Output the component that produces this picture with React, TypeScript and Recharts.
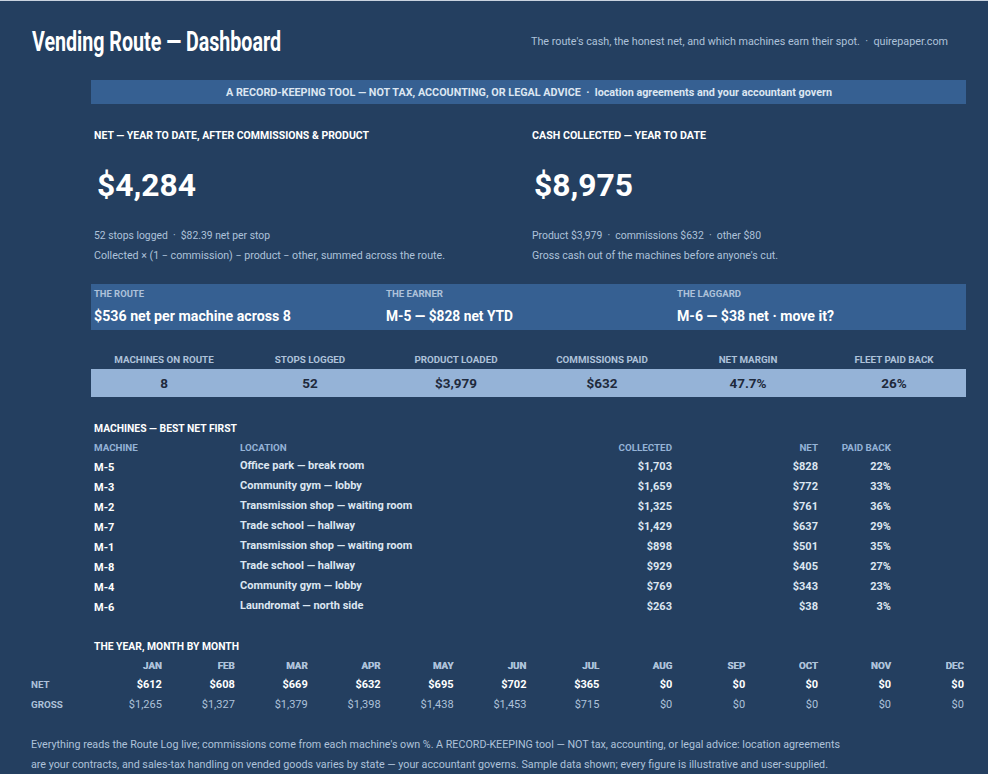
import {
  Bar, BarChart, LabelList, Scatter, ScatterChart, XAxis, YAxis,
} from 'recharts'

const FONT = 'Roboto, "Noto Sans", sans-serif'
const NAVY = '#243F60'
const BAND = '#366092'
const PALE = '#95B3D7'
const MUTED = '#AEC2DA'
const SOFT = '#DCE6F1'
const DARK = '#1F2A3C'

const KPI_LABELS = ['MACHINES ON ROUTE', 'STOPS LOGGED', 'PRODUCT LOADED', 'COMMISSIONS PAID', 'NET MARGIN', 'FLEET PAID BACK']
const KPI_VALUES = ['8', '52', '$3,979', '$632', '47.7%', '26%']

const MACHINES = ['M-5', 'M-3', 'M-2', 'M-7', 'M-1', 'M-8', 'M-4', 'M-6']
const LOCATIONS = [
  'Office park — break room',
  'Community gym — lobby',
  'Transmission shop — waiting room',
  'Trade school — hallway',
  'Transmission shop — waiting room',
  'Trade school — hallway',
  'Community gym — lobby',
  'Laundromat — north side',
]
const COLLECTED = [1703, 1659, 1325, 1429, 898, 929, 769, 263]
const MACHINE_NET = [828, 772, 761, 637, 501, 405, 343, 38]
const PAID_BACK = [22, 33, 36, 29, 35, 27, 23, 3]
const MACHINE_HEADERS = ['MACHINE', 'LOCATION', 'COLLECTED', 'NET', 'PAID BACK']

const MONTHS = ['JAN', 'FEB', 'MAR', 'APR', 'MAY', 'JUN', 'JUL', 'AUG', 'SEP', 'OCT', 'NOV', 'DEC']
const MONTH_ROWS = ['NET', 'GROSS']
const MONTH_NET = [612, 608, 669, 632, 695, 702, 365, 0, 0, 0, 0, 0]
const MONTH_GROSS = [1265, 1327, 1379, 1398, 1438, 1453, 715, 0, 0, 0, 0, 0]

// table column edges, in page pixels
const COLUMN_X = [94, 240, 672, 818, 891]
const COLUMN_ANCHOR = ['start', 'start', 'end', 'end', 'end']
const MONTH_BAND = 72.9

const usd = (v: number) => `$${v.toLocaleString('en-US')}`

const kpiData = KPI_LABELS.map((label, i) => ({ label, display: KPI_VALUES[i], band: 1 }))

const columnPoints = (col: number, texts: string[]) =>
  texts.map((text, i) => ({ x: COLUMN_X[col], machine: MACHINES[i], text }))

const monthPoints = (row: string, values: number[]) =>
  MONTHS.map((month, i) => ({ month, row, value: values[i] }))

function Txt({ x, y, w, size, weight = 400, color = SOFT, anchor = 'start', children }: any) {
  return (
    <text
      x={x}
      y={y}
      fontSize={size}
      fontWeight={weight}
      fill={color}
      textAnchor={anchor}
      dominantBaseline="central"
      textLength={w}
      lengthAdjust="spacingAndGlyphs"
      style={{ whiteSpace: 'pre' }}
    >
      {children}
    </text>
  )
}

function cellShape(col: number, color: string, weight: number, dy: number, size: number) {
  return (props: any) => (
    <text
      x={props.cx}
      y={props.cy + dy}
      fontSize={size}
      fontWeight={weight}
      fill={color}
      textAnchor={COLUMN_ANCHOR[col] as any}
      dominantBaseline="central"
    >
      {props.payload.text}
    </text>
  )
}

function monthShape(color: string, weight: number) {
  return (props: any) => (
    <text
      x={props.cx + MONTH_BAND / 2}
      y={props.cy}
      fontSize={11}
      fontWeight={weight}
      fill={color}
      textAnchor="end"
      dominantBaseline="central"
    >
      {usd(props.payload.value)}
    </text>
  )
}

function MachineHeaderTick({ x, y, index, payload }: any) {
  return (
    <text
      x={x}
      y={y - 1}
      fontSize={9.8}
      fontWeight={700}
      fill={PALE}
      textAnchor={COLUMN_ANCHOR[index] as any}
      dominantBaseline="central"
    >
      {MACHINE_HEADERS[COLUMN_X.indexOf(payload.value)]}
    </text>
  )
}

function MonthTick({ x, y, payload }: any) {
  return (
    <text x={x + MONTH_BAND / 2} y={y - 1} fontSize={9.8} fontWeight={700} fill={MUTED} textAnchor="end" dominantBaseline="central">
      {payload.value}
    </text>
  )
}

function RowTick({ y, payload }: any) {
  return (
    <text x={31} y={y} fontSize={9.8} fontWeight={700} fill={MUTED} dominantBaseline="central">
      {payload.value}
    </text>
  )
}

function KpiTick({ x, y, payload }: any) {
  return (
    <text x={x} y={y - 4} fontSize={9.8} fontWeight={700} fill={MUTED} textAnchor="middle" dominantBaseline="central">
      {payload.value}
    </text>
  )
}

function Backdrop() {
  return (
    <svg width={988} height={774} style={{ position: 'absolute', left: 0, top: 0 }} fontFamily={FONT}>
      <rect x={0} y={0} width={988} height={774} fill={NAVY} />
      <rect x={0} y={0} width={988} height={1} fill="#C9D3DF" />
      <rect x={91} y={80} width={875} height={24} fill={BAND} />
      <rect x={91} y={284} width={875} height={46} fill={BAND} />

      <g fontFamily={'"Liberation Sans Narrow", Roboto, sans-serif'}>
        <Txt x={32} y={42} w={249} size={27} weight={700} color="#FFFFFF">Vending Route — Dashboard</Txt>
      </g>
      <Txt x={531} y={41} w={417} size={11} color={MUTED}>The route's cash, the honest net, and which machines earn their spot.  ·  quirepaper.com</Txt>
      <Txt x={226} y={92} w={606} size={10.5} weight={700}>A RECORD-KEEPING TOOL — NOT TAX, ACCOUNTING, OR LEGAL ADVICE  ·  location agreements and your accountant govern</Txt>

      <Txt x={94} y={135} w={275} size={10.5} weight={700} color="#FFFFFF">NET — YEAR TO DATE, AFTER COMMISSIONS &amp; PRODUCT</Txt>
      <Txt x={532} y={135} w={174} size={10.5} weight={700} color="#FFFFFF">CASH COLLECTED — YEAR TO DATE</Txt>
      <Txt x={97} y={185} w={99} size={31} weight={700} color="#FFFFFF">$4,284</Txt>
      <Txt x={534} y={185} w={99} size={31} weight={700} color="#FFFFFF">$8,975</Txt>
      <Txt x={94} y={235} w={176} size={10.5} color={MUTED}>52 stops logged  ·  $82.39 net per stop</Txt>
      <Txt x={94} y={255} w={351} size={10.5} color={MUTED}>Collected × (1 − commission) − product − other, summed across the route.</Txt>
      <Txt x={532} y={235} w={229} size={10.5} color={MUTED}>Product $3,979  ·  commissions $632  ·  other $80</Txt>
      <Txt x={532} y={255} w={246} size={10.5} color={MUTED}>Gross cash out of the machines before anyone's cut.</Txt>

      <Txt x={94} y={293} w={50} size={9.5} weight={700} color={MUTED}>THE ROUTE</Txt>
      <Txt x={386} y={293} w={57} size={9.5} weight={700} color={MUTED}>THE EARNER</Txt>
      <Txt x={677} y={293} w={64} size={9.5} weight={700} color={MUTED}>THE LAGGARD</Txt>
      <Txt x={94} y={316} w={197} size={14.5} weight={700} color="#FFFFFF">$536 net per machine across 8</Txt>
      <Txt x={386} y={316} w={127} size={14.5} weight={700} color="#FFFFFF">M-5 — $828 net YTD</Txt>
      <Txt x={677} y={316} w={157} size={14.5} weight={700} color="#FFFFFF">M-6 — $38 net · move it?</Txt>

      <Txt x={94} y={428} w={143} size={10.5} weight={700} color="#FFFFFF">MACHINES — BEST NET FIRST</Txt>
      <Txt x={94} y={646} w={145} size={10.5} weight={700} color="#FFFFFF">THE YEAR, MONTH BY MONTH</Txt>

      <Txt x={31} y={744} w={809} size={11} color={MUTED}>Everything reads the Route Log live; commissions come from each machine's own %. A RECORD-KEEPING tool — NOT tax, accounting, or legal advice: location agreements</Txt>
      <Txt x={31} y={764} w={797} size={11} color={MUTED}>are your contracts, and sales-tax handling on vended goods varies by state — your accountant governs. Sample data shown; every figure is illustrative and user-supplied.</Txt>
    </svg>
  )
}

function KpiStrip() {
  return (
    <div style={{ position: 'absolute', left: 91, top: 350, width: 875, overflow: 'hidden' }}>
      <BarChart width={876} height={48} data={kpiData} margin={{ top: 0, right: 0, bottom: 1, left: 0 }} barCategoryGap={0}>
        <XAxis dataKey="label" orientation="top" height={19} axisLine={false} tickLine={false} interval={0} tick={<KpiTick />} tickMargin={0} />
        <YAxis hide domain={[0, 1]} />
        <Bar dataKey="band" fill={PALE} isAnimationActive={false}>
          <LabelList dataKey="display" position="center" fill={DARK} fontSize={13.5} fontWeight={700} />
        </Bar>
      </BarChart>
    </div>
  )
}

function MachineTable() {
  const dollars = (vals: number[]) => vals.map(usd)
  return (
    <div style={{ position: 'absolute', left: 0, top: 438 }}>
      <ScatterChart width={988} height={178} margin={{ top: 0, right: 0, bottom: 0, left: 0 }}>
        <XAxis
          type="number"
          dataKey="x"
          orientation="top"
          domain={[0, 988]}
          ticks={COLUMN_X}
          interval={0}
          height={18}
          axisLine={false}
          tickLine={false}
          tick={<MachineHeaderTick />}
        />
        <YAxis type="category" dataKey="machine" scale="band" reversed hide allowDuplicatedCategory={false} />
        <Scatter data={columnPoints(0, MACHINES)} isAnimationActive={false} shape={cellShape(0, '#FFFFFF', 700, 1, 11)} />
        <Scatter data={columnPoints(1, LOCATIONS)} isAnimationActive={false} shape={cellShape(1, SOFT, 700, -1, 11)} />
        <Scatter data={columnPoints(2, dollars(COLLECTED))} isAnimationActive={false} shape={cellShape(2, SOFT, 700, 0, 11)} />
        <Scatter data={columnPoints(3, dollars(MACHINE_NET))} isAnimationActive={false} shape={cellShape(3, SOFT, 700, 0, 11)} />
        <Scatter data={columnPoints(4, PAID_BACK.map((v) => `${v}%`))} isAnimationActive={false} shape={cellShape(4, SOFT, 700, 0, 11)} />
      </ScatterChart>
    </div>
  )
}

function MonthTable() {
  return (
    <div style={{ position: 'absolute', left: 0, top: 654 }}>
      <ScatterChart width={988} height={60} margin={{ top: 0, right: 24, bottom: 0, left: 0 }}>
        <XAxis
          type="category"
          dataKey="month"
          orientation="top"
          scale="band"
          allowDuplicatedCategory={false}
          interval={0}
          height={20}
          axisLine={false}
          tickLine={false}
          tick={<MonthTick />}
        />
        <YAxis
          type="category"
          dataKey="row"
          scale="band"
          reversed
          allowDuplicatedCategory={false}
          domain={MONTH_ROWS}
          interval={0}
          width={89}
          axisLine={false}
          tickLine={false}
          tick={<RowTick />}
        />
        <Scatter data={monthPoints('NET', MONTH_NET)} isAnimationActive={false} shape={monthShape('#FFFFFF', 700)} />
        <Scatter data={monthPoints('GROSS', MONTH_GROSS)} isAnimationActive={false} shape={monthShape(MUTED, 400)} />
      </ScatterChart>
    </div>
  )
}

export default function App() {
  return (
    <div style={{ position: 'absolute', left: 0, top: 0, width: 988, height: 774, overflow: 'hidden', fontFamily: FONT }}>
      <Backdrop />
      <KpiStrip />
      <MachineTable />
      <MonthTable />
    </div>
  )
}
